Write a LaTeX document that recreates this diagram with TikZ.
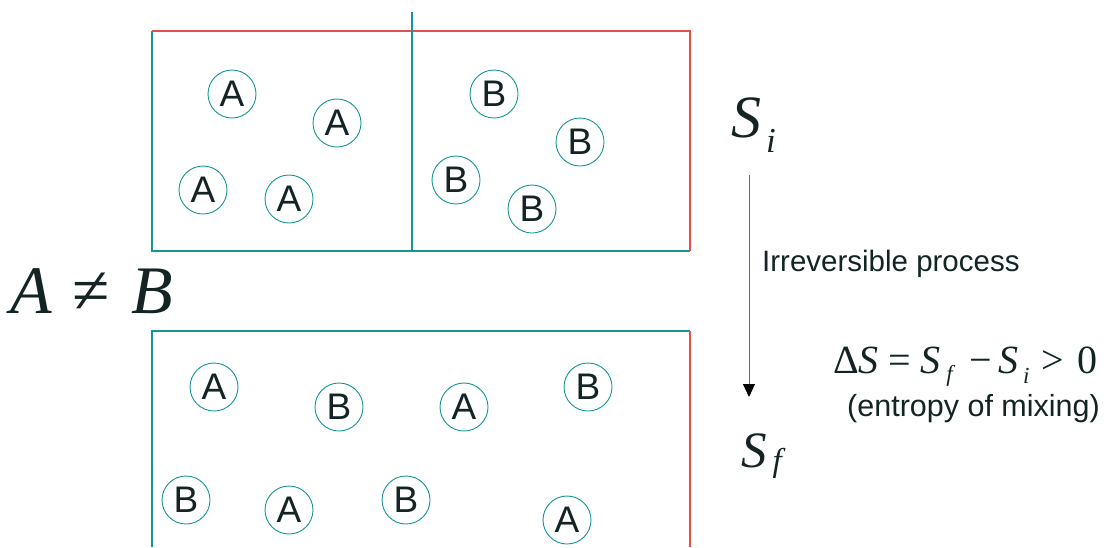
\documentclass[tikz,border=0pt]{standalone}
\usepackage{fontspec}
\setmainfont{Liberation Serif}
\setsansfont{Liberation Sans}
\usetikzlibrary{arrows.meta}
\definecolor{tealline}{RGB}{20,150,150}
\definecolor{redline}{RGB}{225,80,80}
\definecolor{txt}{RGB}{20,35,35}
\definecolor{arrowc}{RGB}{70,120,120}
\begin{document}
\begin{tikzpicture}[x=1pt,y=-1pt,
  atom/.style={circle,draw=tealline,line width=0.9pt,minimum size=48pt,inner sep=0pt,text=txt,font=\sffamily\fontsize{37}{37}\selectfont},
  tl/.style={draw=tealline,line width=1.2pt},
  rl/.style={draw=redline,line width=1.2pt},
  lbl/.style={inner sep=0pt,text=txt}]
\useasboundingbox (0,0) rectangle (1106,547);
% upper container with partition
\draw[tl] (152,31) -- (152,251) -- (690,251);
\draw[rl] (152,31) -- (690,31) -- (690,251);
\draw[tl] (412,12) -- (412,251);
% lower container
\draw[tl] (152,547) -- (152,331) -- (690,331);
\draw[rl] (690,331) -- (690,547);
% initial state
\node[atom] (a1) at (232,94) {A};
\node[atom] (a2) at (337,123) {A};
\node[atom] (a3) at (203,190) {A};
\node[atom] (a4) at (289,199) {A};
\node[atom] (b1) at (494,94) {B};
\node[atom] (b2) at (580,142) {B};
\node[atom] (b3) at (456,180) {B};
\node[atom] (b4) at (532,209) {B};
% final state
\node[atom] (ma1) at (214,387) {A};
\node[atom] (mb1) at (339,407) {B};
\node[atom] (ma2) at (464,407) {A};
\node[atom] (mb2) at (588,387) {B};
\node[atom] (mb3) at (186,500) {B};
\node[atom] (ma3) at (289,510) {A};
\node[atom] (mb4) at (406,500) {B};
\node[atom] (ma4) at (567,520) {A};
% labels
\node[lbl,anchor=base west,font=\fontsize{68}{68}\selectfont] (neq) at (10,313) {\textit{A}\hspace{4pt} ≠ \hspace{4pt}\textit{B}};
\node[lbl,anchor=base west,font=\fontsize{60}{60}\selectfont] (Si) at (731,137) {\textit{S}\hspace{5pt}\raisebox{-15pt}{\fontsize{35}{35}\selectfont\textit{i}}};
\node[lbl,anchor=base west,font=\fontsize{51}{51}\selectfont] (Sf) at (741,467) {\textit{S}\hspace{6pt}\raisebox{-4pt}{\fontsize{33}{33}\selectfont\textit{f}}};
\coordinate (ar1) at (749,175);
\coordinate (ar2) at (749,397);
\draw[draw=arrowc,line width=1pt,-{Triangle[width=12pt,length=13pt,color=black]}] (ar1) -- (ar2);
\node[lbl,anchor=base west,font=\sffamily\fontsize{29.5}{30}\selectfont] (irr) at (762,271) {Irreversible process};
\node[lbl,anchor=base west,font=\fontsize{40}{40}\selectfont] (dS) at (833,373) {Δ\textit{S}\hspace{10pt}=\hspace{9pt}\textit{S}\hspace{6pt}\raisebox{-8pt}{\fontsize{23}{23}\selectfont\textit{f}}\hspace{14pt}−\hspace{6pt}\textit{S}\hspace{5pt}\raisebox{-10pt}{\fontsize{23}{23}\selectfont\textit{i}}\hspace{12pt}>\hspace{13pt}0};
\node[lbl,anchor=base east,font=\sffamily\fontsize{30.5}{31}\selectfont] (mix) at (1100,416) {(entropy of mixing)};
\end{tikzpicture}
\end{document}
